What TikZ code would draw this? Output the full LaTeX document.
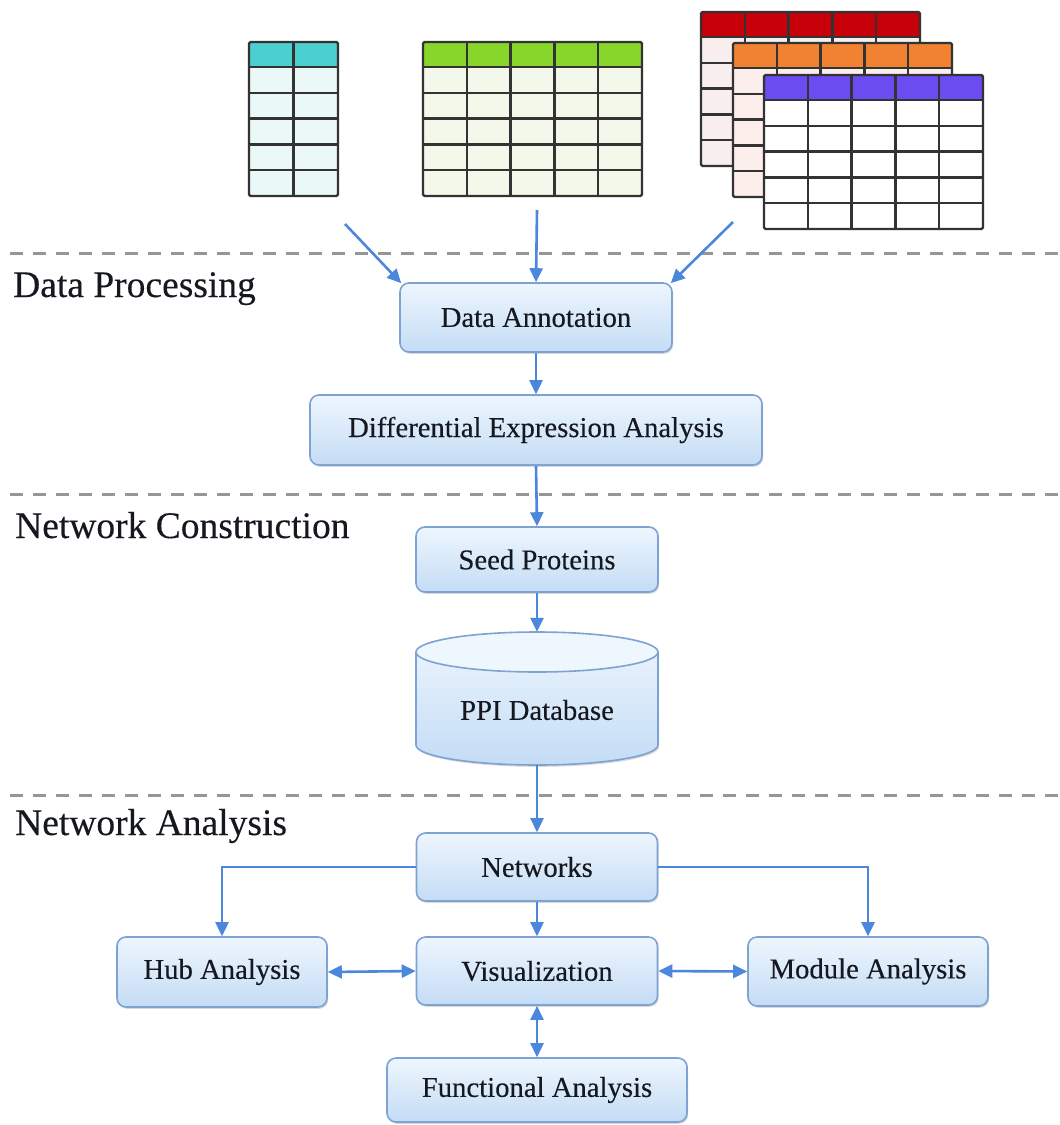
\documentclass[tikz,border=0pt]{standalone}
\usepackage{fontspec}
\setmainfont{Liberation Serif}
\newfontfamily\heavyserif{Liberation Serif}[BoldFont=Liberation Serif,BoldFeatures={FakeBold=0.25}]
\usetikzlibrary{arrows.meta,shadows,calc}
\definecolor{arrowblue}{HTML}{4C87DE}
\definecolor{boxborder}{HTML}{7EA3D3}
\definecolor{boxtop}{HTML}{EEF6FE}
\definecolor{boxbot}{HTML}{C4DCF5}
\definecolor{txt}{HTML}{16181F}
\definecolor{sepgray}{HTML}{969696}
\definecolor{gridline}{HTML}{333333}
\definecolor{cyanhead}{HTML}{4CCFCF}
\definecolor{cyanbody}{HTML}{EAF8F8}
\definecolor{greenhead}{HTML}{88D62C}
\definecolor{greenbody}{HTML}{F3F8EA}
\definecolor{redhead}{HTML}{C8000A}
\definecolor{redbody}{HTML}{F9EEEE}
\definecolor{orangehead}{HTML}{F08232}
\definecolor{orangebody}{HTML}{FCEEEA}
\definecolor{purplehead}{HTML}{6A4CF0}
\definecolor{purplebody}{HTML}{FFFFFF}
\newcommand\datatable[6]{%
  \fill[#6] (#1,#2) rectangle ++(#3,154);
  \fill[#5] (#1,#2) rectangle ++(#3,25);
  \pgfmathsetmacro\colw{#3/#4}
  \pgfmathtruncatemacro\ncm{#4-1}
  \foreach \i in {1,...,\ncm} {\draw[gridl] ({#1+\i*\colw},#2) -- ++(0,154);}
  \foreach \r in {0,...,4} {\draw[gridl] (#1,{#2+25+\r*25.8}) -- ++(#3,0);}
  \draw[gridl,rounded corners=1.5pt] (#1,#2) rectangle ++(#3,154);
}
\begin{document}
\begin{tikzpicture}[x=1pt,y=-1pt,
  gridl/.style={draw=gridline,line width=2.4pt},
  box/.style={draw=boxborder,line width=1.6pt,rounded corners=9pt,
    top color=boxtop,bottom color=boxbot,inner sep=0pt,
    text=txt,font=\heavyserif\bfseries\fontsize{28.7}{34}\selectfont,
    drop shadow={shadow xshift=1.2pt,shadow yshift=-1.8pt,opacity=0.25,fill=black!60}},
  arr/.style={draw=arrowblue,line width=2.6pt,-{Triangle[length=14pt,width=13pt]}},
  darr/.style={draw=arrowblue,line width=2.6pt,{Triangle[length=14pt,width=13pt]}-{Triangle[length=14pt,width=13pt]}},
  sep/.style={draw=sepgray,line width=3pt,dash pattern=on 13pt off 10pt},
  seclabel/.style={anchor=base west,inner sep=0pt,text=txt,font=\heavyserif\bfseries\fontsize{37.5}{44}\selectfont}
]
\useasboundingbox (0,0) rectangle (1060,1125);
\fill[white] (0,0) rectangle (1060,1125);

% tables
\datatable{249}{42}{89}{2}{cyanhead}{cyanbody}
\datatable{423}{42}{219}{5}{greenhead}{greenbody}
\datatable{701}{12}{219}{5}{redhead}{redbody}
\datatable{733}{43}{219}{5}{orangehead}{orangebody}
\datatable{764}{75}{219}{5}{purplehead}{purplebody}

% separators
\draw[sep] (10,253) -- (1060,253);
\draw[sep] (10,494) -- (1060,494);
\draw[sep] (10,795) -- (1060,795);

% section labels
\node[seclabel] (lab1) at (13,297) {Data Processing};
\node[seclabel] (lab2) at (15,538) {Network Construction};
\node[seclabel] (lab3) at (15,835) {Network Analysis};

% boxes
\node[box,minimum width=272pt,minimum height=69pt] (da) at (536,317.5) {Data Annotation};
\node[box,minimum width=452pt,minimum height=70pt] (dea) at (536,430) {Differential Expression Analysis};
\node[box,minimum width=242pt,minimum height=65pt] (seed) at (537,559.5) {Seed Proteins};

% cylinder
\path[drop shadow={shadow xshift=1.2pt,shadow yshift=-1.8pt,opacity=0.25,fill=black!60},
  top color=boxtop,bottom color=boxbot]
  (416,652) -- (416,745) arc[start angle=180,end angle=360,x radius=121pt,y radius=20pt]
  -- (658,652) arc[start angle=0,end angle=180,x radius=121pt,y radius=20pt] -- cycle;
\fill[boxtop] (537,652) ellipse[x radius=121pt,y radius=20pt];
\draw[boxborder,line width=1.6pt]
  (416,652) -- (416,745) arc[start angle=180,end angle=360,x radius=121pt,y radius=20pt]
  -- (658,652) arc[start angle=0,end angle=180,x radius=121pt,y radius=20pt] -- cycle;
\draw[boxborder,line width=1.6pt] (416,652) arc[start angle=180,end angle=360,x radius=121pt,y radius=20pt];
\node[minimum width=242pt,minimum height=133pt,inner sep=0pt] (ppi) at (537,698.5) {};
\node[text=txt,font=\heavyserif\bfseries\fontsize{28.7}{34}\selectfont,inner sep=0pt] (ppilabel) at (537,710) {PPI Database};

\node[box,minimum width=241pt,minimum height=68pt] (net) at (537,867) {Networks};
\node[box,minimum width=210pt,minimum height=70pt] (hub) at (222,972) {Hub Analysis};
\node[box,minimum width=241pt,minimum height=68pt] (vis) at (537,971) {Visualization};
\node[box,minimum width=240pt,minimum height=69pt] (mod) at (868,971.5) {Module Analysis};
\node[box,minimum width=300pt,minimum height=64pt] (fun) at (537,1090) {Functional Analysis};

% arrow start points
\coordinate (s1) at (345,224);
\coordinate (s2) at (537,210);
\coordinate (s3) at (733,222);

% connectors
\draw[arr] (s1) -- ($(da.north west)+(2,1)$);
\draw[arr] (s2) -- (da.north);
\draw[arr] (s3) -- ($(da.north east)+(-2,1)$);
\draw[arr] (da.south) -- (dea.north);
\draw[arr] (dea.south) -- (seed.north);
\draw[arr] (seed.south) -- (ppi.north);
\draw[arr] (ppi.south) -- (net.north);
\draw[arr] (net.south) -- (vis.north);
\draw[arr] (net.west) -| (hub.north);
\draw[arr] (net.east) -| (mod.north);
\draw[darr] (hub.east) -- (vis.west);
\draw[darr] (vis.east) -- (mod.west);
\draw[darr] (vis.south) -- (fun.north);
\end{tikzpicture}
\end{document}
